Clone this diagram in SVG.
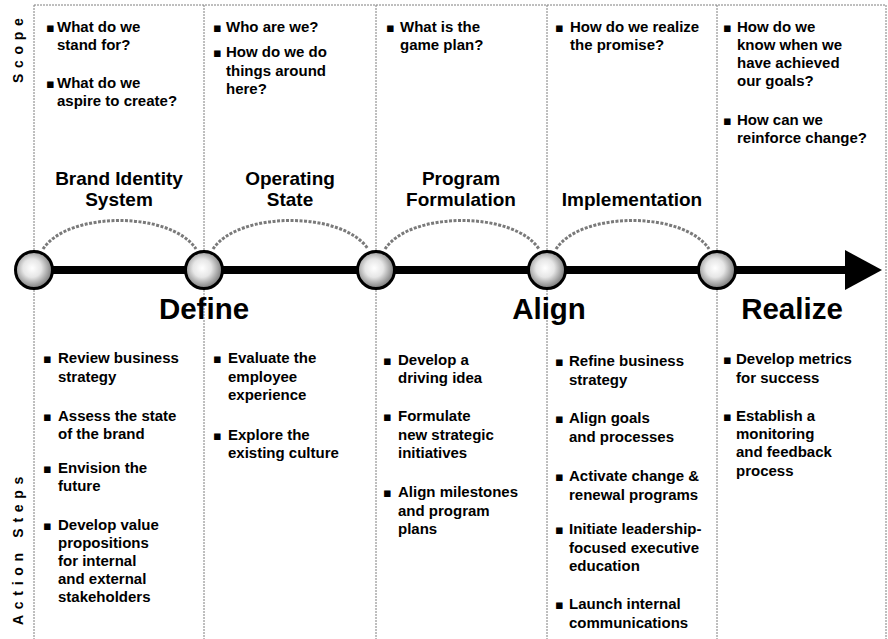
<svg xmlns="http://www.w3.org/2000/svg" width="888" height="639" viewBox="0 0 888 639">
<style>
.grid{stroke:#7f7f7f;stroke-width:1;stroke-dasharray:2 1;fill:none}
.t{font-family:"Liberation Sans",Arial,sans-serif;font-weight:bold;font-size:15px;fill:#000}
.b{font-family:"DejaVu Sans",sans-serif;font-size:13px;fill:#000}
.h{font-family:"Liberation Sans",Arial,sans-serif;font-weight:bold;font-size:19px;fill:#000;text-anchor:middle}
.p{font-family:"Liberation Sans",Arial,sans-serif;font-weight:bold;font-size:29.5px;fill:#000;text-anchor:middle}
.side{font-family:"Liberation Sans",Arial,sans-serif;font-weight:bold;font-size:14px;letter-spacing:5.7px;fill:#000}
.arc{stroke:#7a7a7a;stroke-width:3;stroke-dasharray:3 1.5;fill:none}
.node{fill:url(#g);stroke:#000;stroke-width:3}
</style>
<defs>
<radialGradient id="g" cx="45%" cy="45%" r="55%">
<stop offset="0" stop-color="#ffffff"/>
<stop offset="0.45" stop-color="#e6e6e6"/>
<stop offset="1" stop-color="#7a7a7a"/>
</radialGradient>
</defs>
<rect width="888" height="639" fill="#fff"/>
<g id="frame">
<line class="grid" x1="34" y1="5" x2="886" y2="5"/>
<line class="grid" x1="34" y1="5" x2="34" y2="639"/>
<line class="grid" x1="204" y1="5" x2="204" y2="639"/>
<line class="grid" x1="376" y1="5" x2="376" y2="639"/>
<line class="grid" x1="547" y1="5" x2="547" y2="639"/>
<line class="grid" x1="717" y1="5" x2="717" y2="639"/>
<line class="grid" x1="886" y1="5" x2="886" y2="639"/>
</g>
<g id="side-labels">
<text class="side" transform="translate(23,83) rotate(-90)">Scope</text>
<text class="side" transform="translate(23,625) rotate(-90)">Action Steps</text>
</g>
<g id="connectors">
<line x1="34" y1="270" x2="848" y2="270" stroke="#000" stroke-width="8"/>
<polygon points="845,250 882,270 845,290" fill="#000"/>
<path class="arc" d="M43,249 C68,211 171,211 196,249"/>
<path class="arc" d="M213,249 C238,211 343,211 368,249"/>
<path class="arc" d="M385,249 C410,211 514,211 539,249"/>
<path class="arc" d="M556,249 C581,211 684,211 709,249"/>
</g>
<g id="node-1"><circle class="node" cx="34" cy="270" r="18.5"/></g>
<g id="node-2"><circle class="node" cx="204" cy="270" r="18.5"/></g>
<g id="node-3"><circle class="node" cx="376" cy="270" r="18.5"/></g>
<g id="node-4"><circle class="node" cx="547" cy="270" r="18.5"/></g>
<g id="node-5"><circle class="node" cx="717" cy="270" r="18.5"/></g>
<g id="phases">
<text class="p" x="204" y="319">Define</text>
<text class="p" x="549" y="319">Align</text>
<text class="p" x="792" y="319">Realize</text>
</g>
<g id="stage-titles">
<text class="h" x="119" y="185">Brand Identity</text>
<text class="h" x="119" y="206">System</text>
<text class="h" x="290" y="185">Operating</text>
<text class="h" x="290" y="206">State</text>
<text class="h" x="461" y="185">Program</text>
<text class="h" x="461" y="206">Formulation</text>
<text class="h" x="632" y="206">Implementation</text>
</g>
<g id="scope-1">
<text class="b" x="46" y="32">▪</text><text class="b" x="46" y="88">▪</text>
<text class="t"><tspan x="57" y="32">What do we</tspan><tspan x="57" y="50">stand for?</tspan><tspan x="57" y="88">What do we</tspan><tspan x="57" y="106">aspire to create?</tspan></text>
</g>
<g id="scope-2">
<text class="b" x="213" y="32">▪</text><text class="b" x="213" y="57">▪</text>
<text class="t"><tspan x="226" y="32">Who are we?</tspan><tspan x="226" y="57">How do we do</tspan><tspan x="226" y="75.5">things around</tspan><tspan x="226" y="94">here?</tspan></text>
</g>
<g id="scope-3">
<text class="b" x="386" y="32">▪</text>
<text class="t"><tspan x="400" y="32">What is the</tspan><tspan x="400" y="50">game plan?</tspan></text>
</g>
<g id="scope-4">
<text class="b" x="555" y="32">▪</text>
<text class="t"><tspan x="570" y="32">How do we realize</tspan><tspan x="570" y="50">the promise?</tspan></text>
</g>
<g id="scope-5">
<text class="b" x="723" y="32">▪</text><text class="b" x="723" y="125">▪</text>
<text class="t"><tspan x="737" y="32">How do we</tspan><tspan x="737" y="50">know when we</tspan><tspan x="737" y="68">have achieved</tspan><tspan x="737" y="86">our goals?</tspan><tspan x="737" y="125">How can we</tspan><tspan x="737" y="143">reinforce change?</tspan></text>
</g>
<g id="steps-1">
<text class="b" x="43" y="363">▪</text><text class="b" x="43" y="421">▪</text><text class="b" x="43" y="473">▪</text><text class="b" x="43" y="530">▪</text>
<text class="t"><tspan x="58" y="363">Review business</tspan><tspan x="58" y="381.5">strategy</tspan><tspan x="58" y="421">Assess the state</tspan><tspan x="58" y="439">of the brand</tspan><tspan x="58" y="473">Envision the</tspan><tspan x="58" y="491">future</tspan><tspan x="58" y="530">Develop value</tspan><tspan x="58" y="548">propositions</tspan><tspan x="58" y="566">for internal</tspan><tspan x="58" y="584">and external</tspan><tspan x="58" y="602">stakeholders</tspan></text>
</g>
<g id="steps-2">
<text class="b" x="213" y="363">▪</text><text class="b" x="213" y="440">▪</text>
<text class="t"><tspan x="228" y="363">Evaluate the</tspan><tspan x="228" y="381.5">employee</tspan><tspan x="228" y="400">experience</tspan><tspan x="228" y="440">Explore the</tspan><tspan x="228" y="458">existing culture</tspan></text>
</g>
<g id="steps-3">
<text class="b" x="383" y="365">▪</text><text class="b" x="383" y="421">▪</text><text class="b" x="383" y="497">▪</text>
<text class="t"><tspan x="398" y="365">Develop a</tspan><tspan x="398" y="383">driving idea</tspan><tspan x="398" y="421">Formulate</tspan><tspan x="398" y="440">new strategic</tspan><tspan x="398" y="458">initiatives</tspan><tspan x="398" y="497">Align milestones</tspan><tspan x="398" y="516">and program</tspan><tspan x="398" y="534">plans</tspan></text>
</g>
<g id="steps-4">
<text class="b" x="555" y="366">▪</text><text class="b" x="555" y="423">▪</text><text class="b" x="555" y="481">▪</text><text class="b" x="555" y="534">▪</text><text class="b" x="555" y="609">▪</text>
<text class="t"><tspan x="569" y="366">Refine business</tspan><tspan x="569" y="385">strategy</tspan><tspan x="569" y="423">Align goals</tspan><tspan x="569" y="442">and processes</tspan><tspan x="569" y="481">Activate change &amp;</tspan><tspan x="569" y="500">renewal programs</tspan><tspan x="569" y="534">Initiate leadership-</tspan><tspan x="569" y="553">focused executive</tspan><tspan x="569" y="571">education</tspan><tspan x="569" y="609">Launch internal</tspan><tspan x="569" y="628">communications</tspan></text>
</g>
<g id="steps-5">
<text class="b" x="723" y="364">▪</text><text class="b" x="723" y="421">▪</text>
<text class="t"><tspan x="736" y="364">Develop metrics</tspan><tspan x="736" y="383">for success</tspan><tspan x="736" y="421">Establish a</tspan><tspan x="736" y="439">monitoring</tspan><tspan x="736" y="457">and feedback</tspan><tspan x="736" y="476">process</tspan></text>
</g>
</svg>
